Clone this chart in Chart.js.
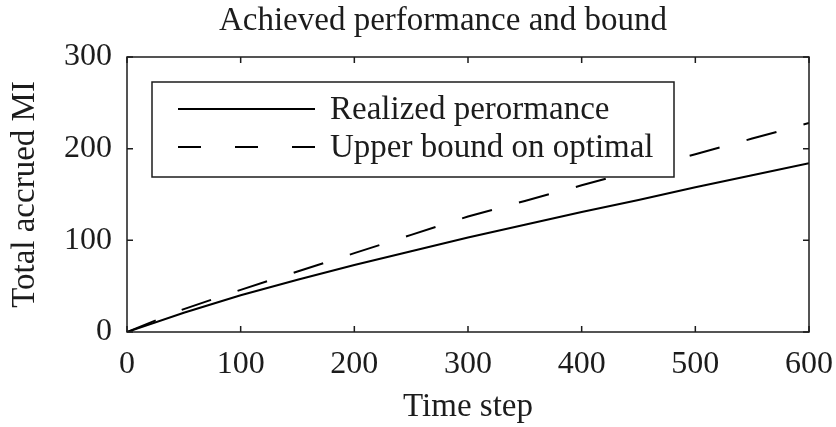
<!DOCTYPE html>
<html>
<head>
<meta charset="utf-8">
<script src="https://cdn.jsdelivr.net/npm/chart.js@4.4.1/dist/chart.umd.min.js"></script>
<style>
  body { margin: 0; background: #fff; }
  #wrap { width: 836px; height: 427px; }
</style>
</head>
<body>
<div id="wrap"><canvas id="perf"></canvas></div>
<script>
const timeSteps = [0, 50, 100, 150, 200, 250, 300, 350, 400, 450, 500, 550, 600];
const realized = [0, 21, 40, 57, 73, 88, 103, 117, 131, 144, 158, 171, 184];
const upperBound = [0, 25, 46, 66, 86, 106, 126, 143, 160, 177, 194, 211, 228];
const seriesLabels = ["Realized perormance", "Upper bound on optimal"];
const chartTitle = "Achieved performance and bound";

const FONT = "'Liberation Serif', 'Times New Roman', serif";
const INK = "#1c1c1c";

// frame + inward ticks on all four sides (matlab style)
const framePlugin = {
  id: "frame",
  afterDatasetsDraw(chart) {
    const { ctx, chartArea: ca, scales } = chart;
    const len = 6;
    ctx.save();
    ctx.strokeStyle = INK;
    ctx.lineWidth = 1.5;
    ctx.beginPath();
    scales.x.ticks.forEach((t) => {
      const px = scales.x.getPixelForValue(t.value);
      ctx.moveTo(px, ca.bottom);
      ctx.lineTo(px, ca.bottom - len);
      ctx.moveTo(px, ca.top);
      ctx.lineTo(px, ca.top + len);
    });
    scales.y.ticks.forEach((t) => {
      const py = scales.y.getPixelForValue(t.value);
      ctx.moveTo(ca.left, py);
      ctx.lineTo(ca.left + len, py);
      ctx.moveTo(ca.right, py);
      ctx.lineTo(ca.right - len, py);
    });
    ctx.stroke();
    ctx.strokeRect(ca.left, ca.top, ca.right - ca.left, ca.bottom - ca.top);

    // title, a bit left of the plot centre like the original
    ctx.fillStyle = INK;
    ctx.font = "33px " + FONT;
    ctx.textAlign = "center";
    ctx.textBaseline = "middle";
    ctx.fillText(chartTitle, 443, ca.top - 36);
    ctx.restore();
  },
};

// boxed legend inside the plot, top-left
const boxLegend = {
  id: "boxLegend",
  afterDatasetsDraw(chart) {
    const { ctx, chartArea: ca } = chart;
    const left = ca.left + 25;
    const top = ca.top + 25;
    const w = 522;
    const h = 95;
    ctx.save();
    ctx.fillStyle = "#fff";
    ctx.fillRect(left, top, w, h);
    ctx.strokeStyle = INK;
    ctx.lineWidth = 1.5;
    ctx.strokeRect(left, top, w, h);
    const rows = [top + 27, top + 65];
    chart.data.datasets.forEach((ds, i) => {
      const y = rows[i];
      ctx.strokeStyle = ds.borderColor;
      ctx.lineWidth = 2;
      ctx.setLineDash(i === 1 ? [23, 34] : []);
      ctx.beginPath();
      ctx.moveTo(left + 26, y);
      ctx.lineTo(left + 163, y);
      ctx.stroke();
      ctx.setLineDash([]);
      ctx.fillStyle = INK;
      ctx.font = "33px " + FONT;
      ctx.textBaseline = "middle";
      ctx.textAlign = "left";
      ctx.fillText(ds.label, left + 178, y + 1);
    });
    ctx.restore();
  },
};

new Chart(document.getElementById("perf"), {
  type: "line",
  data: {
    datasets: [
      {
        label: seriesLabels[0],
        data: timeSteps.map((t, i) => ({ x: t, y: realized[i] })),
        borderColor: "#000",
        borderWidth: 2,
        pointRadius: 0,
        tension: 0,
      },
      {
        label: seriesLabels[1],
        data: timeSteps.map((t, i) => ({ x: t, y: upperBound[i] })),
        borderColor: "#000",
        borderWidth: 2,
        borderDash: [31, 28],
        pointRadius: 0,
        tension: 0,
      },
    ],
  },
  options: {
    responsive: true,
    maintainAspectRatio: false,
    animation: false,
    layout: { padding: { left: 0, right: 27, top: 57, bottom: 0 } },
    plugins: {
      legend: { display: false },
      tooltip: { enabled: false },
      title: { display: false },
    },
    scales: {
      x: {
        type: "linear",
        min: 0,
        max: 600,
        afterFit: (s) => {
          s.height = 95;
          s.paddingLeft = 0;
          s.paddingRight = 0;
        },
        ticks: {
          stepSize: 100,
          padding: 13,
          color: INK,
          maxRotation: 0,
          font: { family: FONT, size: 32 },
        },
        grid: { display: false, drawTicks: false },
        border: { display: false },
        title: {
          display: true,
          text: "Time step",
          color: INK,
          font: { family: FONT, size: 33 },
          padding: { top: 0, bottom: 0 },
        },
      },
      y: {
        type: "linear",
        min: 0,
        max: 300,
        afterFit: (s) => { s.width = 127; },
        ticks: {
          stepSize: 100,
          padding: 15,
          color: INK,
          font: { family: FONT, size: 32 },
        },
        grid: { display: false, drawTicks: false },
        border: { display: false },
        title: {
          display: true,
          text: "Total accrued MI",
          color: INK,
          font: { family: FONT, size: 33 },
          padding: { top: 6, bottom: 0 },
        },
      },
    },
  },
  plugins: [framePlugin, boxLegend],
});
</script>
</body>
</html>
